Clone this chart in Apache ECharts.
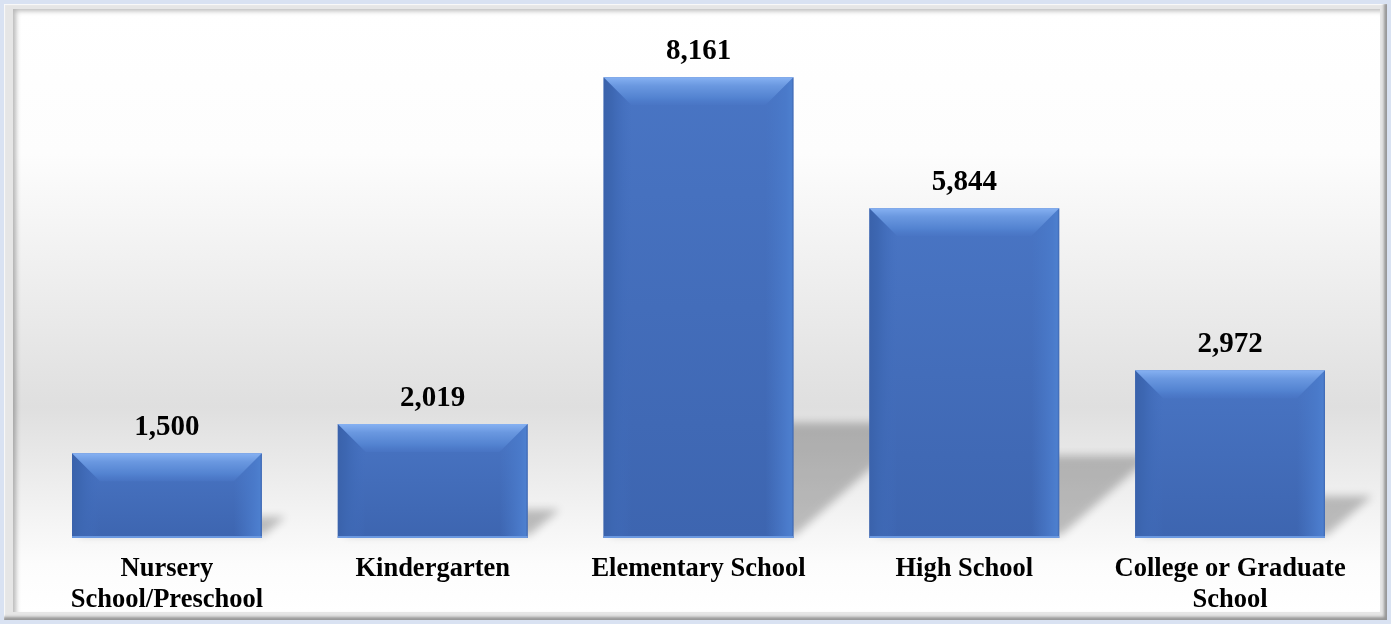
<!DOCTYPE html>
<html>
<head>
<meta charset="utf-8">
<script src="https://cdn.jsdelivr.net/npm/echarts@6/dist/echarts.min.js"></script>
<style>
  html, body { margin: 0; padding: 0; width: 1391px; height: 624px; overflow: hidden; background: #d9e2f2; }
  #frame { position: absolute; left: 4px; top: 4px; width: 1383px; height: 616px;
           background: #e6e6e6; box-shadow: inset -3px -3px 3px rgba(0,0,0,0.35), inset 1px 1px 1px rgba(255,255,255,0.8); }
  #panel { position: absolute; left: 13px; top: 9px; width: 1367px; height: 603px;
           background: linear-gradient(to bottom, #ffffff 0%, #fdfdfd 24%, #ececec 48%, #dfdfdf 66%, #f1f1f1 82%, #fcfcfc 92%, #ffffff 100%);
           box-shadow: inset 4px 3px 5px -1px rgba(0,0,0,0.28); }
  #chart { position: absolute; left: 0; top: 0; width: 1391px; height: 624px; z-index: 2; }
</style>
</head>
<body>
<div id="frame"></div>
<div id="panel"></div>
<div id="chart"></div>
<script>
// Enrollment by school level
const categories = ['Nursery\nSchool/Preschool', 'Kindergarten', 'Elementary School', 'High School', 'College or Graduate\nSchool'];
const values = [1500, 2019, 8161, 5844, 2972];

const BAR_RATIO = 0.714;
const SHIFT = 4000; // shape drawn off-canvas, only its blurred shadow lands on the chart

function fmt(v) {
  return String(v).replace(/\B(?=(\d{3})+(?!\d))/g, ',');
}

// Soft cast shadow lying on the floor behind each bar
function renderShadow(params, api) {
  const base = api.coord([api.value(0), 0]);
  const top = api.coord([api.value(0), api.value(1)]);
  const w = api.size([1, 0])[0] * BAR_RATIO;
  const x0 = base[0] - w / 2, x1 = base[0] + w / 2, yb = base[1];
  const H = yb - top[1];
  const dx = 0.28 * H, dy = 0.25 * H;
  const pts = [[x0 + 6, yb - 3], [x1 + 2, yb - 3], [x1 + dx, yb - dy], [x0 + dx, yb - dy]];
  return {
    type: 'polygon',
    shape: { points: pts.map(p => [p[0] - SHIFT, p[1]]) },
    style: {
      fill: '#000', shadowBlur: 9, shadowOffsetX: SHIFT, shadowOffsetY: 0,
      shadowColor: 'rgba(0,0,0,0.24)'
    }
  };
}

// Bevelled faces drawn over each bar
function renderBevel(params, api) {
  const base = api.coord([api.value(0), 0]);
  const top = api.coord([api.value(0), api.value(1)]);
  const w = api.size([1, 0])[0] * BAR_RATIO;
  const x0 = base[0] - w / 2, x1 = base[0] + w / 2, y0 = top[1], yb = base[1];
  const b = Math.min(28, (yb - y0) / 2);
  const bb = 3;
  return {
    type: 'group',
    children: [
      {
        type: 'polygon',
        shape: { points: [[x0, y0], [x0 + b, y0 + b], [x0 + b, yb - bb], [x0, yb]] },
        style: { fill: new echarts.graphic.LinearGradient(0, 0, 1, 0, [
          { offset: 0, color: '#3a62ab' }, { offset: 0.3, color: '#3d67b2' }, { offset: 1, color: 'rgba(66,110,190,0.0)' }]) }
      },
      {
        type: 'polygon',
        shape: { points: [[x1, y0], [x1, yb], [x1 - b, yb - bb], [x1 - b, y0 + b]] },
        style: { fill: new echarts.graphic.LinearGradient(0, 0, 1, 0, [
          { offset: 0, color: 'rgba(72,120,200,0)' }, { offset: 0.75, color: '#4a7aca' }, { offset: 0.93, color: '#4d7fce' }, { offset: 1, color: '#3f68b2' }]) }
      },
      {
        type: 'polygon',
        shape: { points: [[x0, y0], [x1, y0], [x1 - b, y0 + b], [x0 + b, y0 + b]] },
        style: { fill: new echarts.graphic.LinearGradient(0, 0, 0, 1, [
          { offset: 0, color: '#86b1f2' }, { offset: 0.3, color: '#6a98e0' }, { offset: 0.75, color: '#5282d0' }, { offset: 1, color: 'rgba(74,118,198,0.6)' }]) }
      },
      {
        type: 'rect',
        shape: { x: x0, y: yb - 2, width: w, height: 2 },
        style: { fill: '#6a98e0' }
      }
    ]
  };
}

const chart = echarts.init(document.getElementById('chart'), null, { renderer: 'canvas' });
chart.setOption({
  animation: false,
  grid: { left: 34, right: 28, top: 30, bottom: 86 },
  xAxis: {
    type: 'category',
    data: categories,
    axisLine: { show: false },
    axisTick: { show: false },
    axisLabel: {
      interval: 0, margin: 16, color: '#000', fontSize: 26.5, fontWeight: 'bold',
      fontFamily: 'Liberation Serif', lineHeight: 31
    }
  },
  yAxis: { type: 'value', min: 0, max: 9000, show: false },
  series: [
    {
      type: 'custom',
      renderItem: renderShadow,
      data: values.map((v, i) => [i, v]),
      z: 1,
      silent: true
    },
    {
      type: 'bar',
      data: values,
      barWidth: (BAR_RATIO * 100) + '%',
      z: 2,
      itemStyle: {
        color: new echarts.graphic.LinearGradient(0, 0, 0, 1, [
          { offset: 0, color: '#4975c4' }, { offset: 1, color: '#3d65b0' }])
      },
      label: {
        show: true, position: 'top', distance: 11, color: '#000',
        fontSize: 29, fontWeight: 'bold', fontFamily: 'Liberation Serif',
        formatter: p => fmt(p.value)
      }
    },
    {
      type: 'custom',
      renderItem: renderBevel,
      data: values.map((v, i) => [i, v]),
      z: 3,
      silent: true
    }
  ]
});
</script>
</body>
</html>
